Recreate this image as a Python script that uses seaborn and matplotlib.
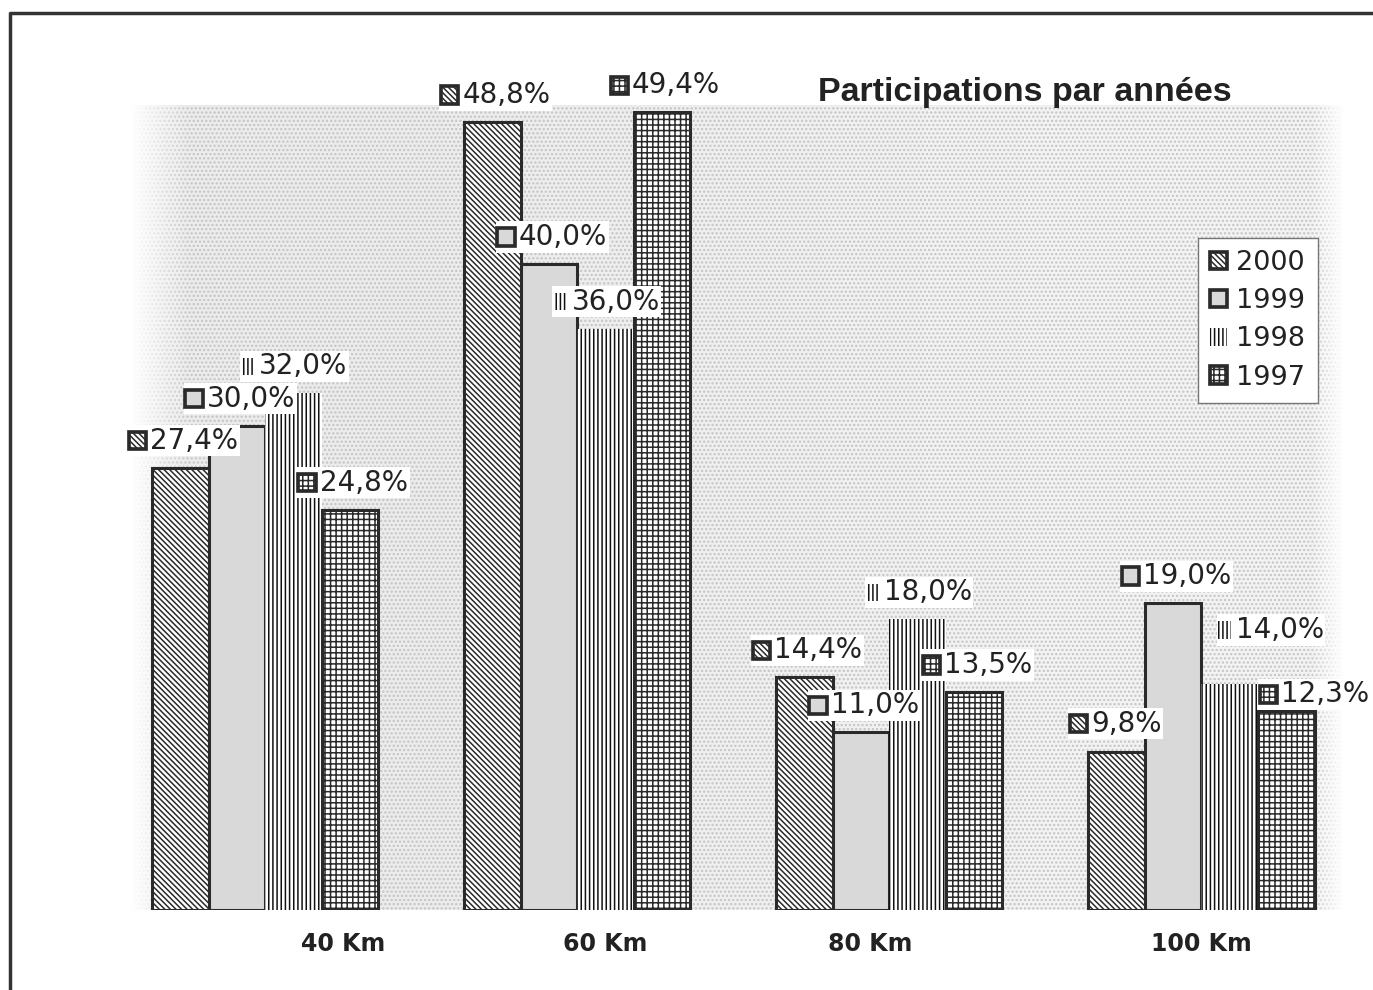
import numpy as np
import pandas as pd
import matplotlib
matplotlib.use('Agg')
from matplotlib import pyplot as plt
from matplotlib.patches import Rectangle, Patch
from matplotlib.lines import Line2D
from matplotlib.offsetbox import AnnotationBbox, HPacker, TextArea, DrawingArea
import seaborn as sns

# data
distances = ['40 Km', '60 Km', '80 Km', '100 Km']
years = ['2000', '1999', '1998', '1997']
part2000 = [27.4, 48.8, 14.4, 9.8]
part1999 = [30.0, 40.0, 11.0, 19.0]
part1998 = [32.0, 36.0, 18.0, 14.0]
part1997 = [24.8, 49.4, 13.5, 12.3]
title = 'Participations par années'

sns.set_style('white')
plt.rcParams['font.family'] = ['DejaVu Sans']
plt.rcParams['hatch.linewidth'] = 1.1

df = pd.DataFrame({
    'distance': distances * 4,
    'year': [y for y in years for _ in distances],
    'value': part2000 + part1999 + part1998 + part1997,
})

# bar look per year (black and white print)
styles = {
    '2000': dict(face='white', edge='#2a2a2a', hatch='\\' * 6, lw=2.2),
    '1999': dict(face='#d9d9d9', edge='#2a2a2a', hatch='', lw=2.2),
    '1998': dict(face='white', edge='#111111', hatch='||||', lw=0),
    '1997': dict(face='white', edge='#2a2a2a', hatch='+++', lw=2.2),
}

fig = plt.figure(figsize=(13.73, 9.9), dpi=100)
ax = fig.add_axes([130 / 1373, 80 / 990, 1215 / 1373, 805 / 990])

# dotted grey background, fading out on the left and right
ax.imshow(np.array([[0.925, 0.95]]), extent=[0, 1, 0, 1], transform=ax.transAxes,
          aspect='auto', cmap='gray', vmin=0, vmax=1, interpolation='bilinear', zorder=0)
ax.add_patch(Rectangle((0, 0), 1, 1, transform=ax.transAxes, facecolor='none',
                       edgecolor='#c4c4c4', hatch='....', linewidth=0, zorder=0.5))
fade = np.zeros((1, 400, 4))
fade[..., :3] = 1.0
fade[0, :20, 3] = np.linspace(1.0, 0.0, 20)
fade[0, -12:, 3] = np.linspace(0.0, 1.0, 12)
ax.imshow(fade, extent=[0, 1, 0, 1], transform=ax.transAxes, aspect='auto', zorder=0.8)

sns.barplot(data=df, x='distance', y='value', hue='year', order=distances,
            hue_order=years, width=0.725, errorbar=None, legend=False, ax=ax, zorder=2)

for year, cont in zip(years, ax.containers):
    st = styles[year]
    for rect in cont:
        rect.set_facecolor(st['face'])
        rect.set_edgecolor(st['edge'])
        rect.set_hatch(st['hatch'])
        rect.set_linewidth(st['lw'])

ax.set_xlim(-0.433, 3.46)
ax.set_ylim(0, 49.85)
ax.set_xticks([])
ax.set_yticks([])
ax.set_xlabel('')
ax.set_ylabel('')
for sp in ax.spines.values():
    sp.set_visible(False)


def marker(year):
    st = styles[year]
    w = 9.5 if year == '1998' else 12.5
    da = DrawingArea(w, 12.5, 0, 0)
    da.add_artist(Rectangle((0, 0), w, 12.5, facecolor=st['face'], edgecolor=st['edge'],
                            hatch=st['hatch'], linewidth=min(st['lw'], 2.6) * 1.2))
    return da


# label nudges in pixels (marker left vs bar left, label centre above bar top)
nudge = {(3, '2000'): (-16, 28), (3, '1998'): (20, 54), (3, '1997'): (5, 17)}

for year, cont in zip(years, ax.containers):
    for i, rect in enumerate(cont):
        h = rect.get_height()
        txt = ('%.1f%%' % h).replace('.', ',')
        dx, dy = nudge.get((i, year), (-20, 27))
        box = HPacker(children=[marker(year),
                                TextArea(txt, textprops=dict(fontsize=20, color='#222222'))],
                      align='center', pad=0, sep=3)
        ab = AnnotationBbox(box, (rect.get_x(), h), xybox=(dx * 0.72, dy * 0.72),
                            xycoords='data', boxcoords='offset points', box_alignment=(0.03, 0.5),
                            frameon=True, pad=0.12,
                            bboxprops=dict(facecolor='white', edgecolor='none'), zorder=5)
        ax.add_artist(ab)

# category names under the groups
labelShift = [0.25, 0.09, -0.06, 0.0]
for i, name in enumerate(distances):
    ax.text(i + labelShift[i], -0.042, name, transform=ax.get_xaxis_transform(),
            ha='center', va='center', fontsize=17, fontweight='bold', color='#222222')

handles = [Patch(facecolor=styles[y]['face'], edgecolor=styles[y]['edge'],
                 hatch=styles[y]['hatch'], linewidth=min(styles[y]['lw'], 2.6) * 1.2) for y in years]
leg = ax.legend(handles, years, loc='upper left', bbox_to_anchor=(0.879, 0.835),
                frameon=True, fancybox=False, framealpha=1, edgecolor='#777777',
                fontsize=19.5, handlelength=0.62, handleheight=0.62, handletextpad=0.35,
                labelspacing=0.45, borderpad=0.45, borderaxespad=0)
leg.get_frame().set_linewidth(1.0)
leg.set_zorder(6)
for t in leg.get_texts():
    t.set_color('#222222')

fig.text(818 / 1373, 1 - 92 / 990, title, family='Liberation Sans', fontweight='bold',
         fontsize=24.5, color='#222222', ha='left', va='center')

# page frame of the scan
fig.add_artist(Line2D([10 / 1373, 10 / 1373, 1.0], [0.0, 1 - 13 / 990, 1 - 13 / 990],
                      transform=fig.transFigure, color='#333333', linewidth=2.5))

fig.savefig('out.png', dpi=100)
plt.close()
